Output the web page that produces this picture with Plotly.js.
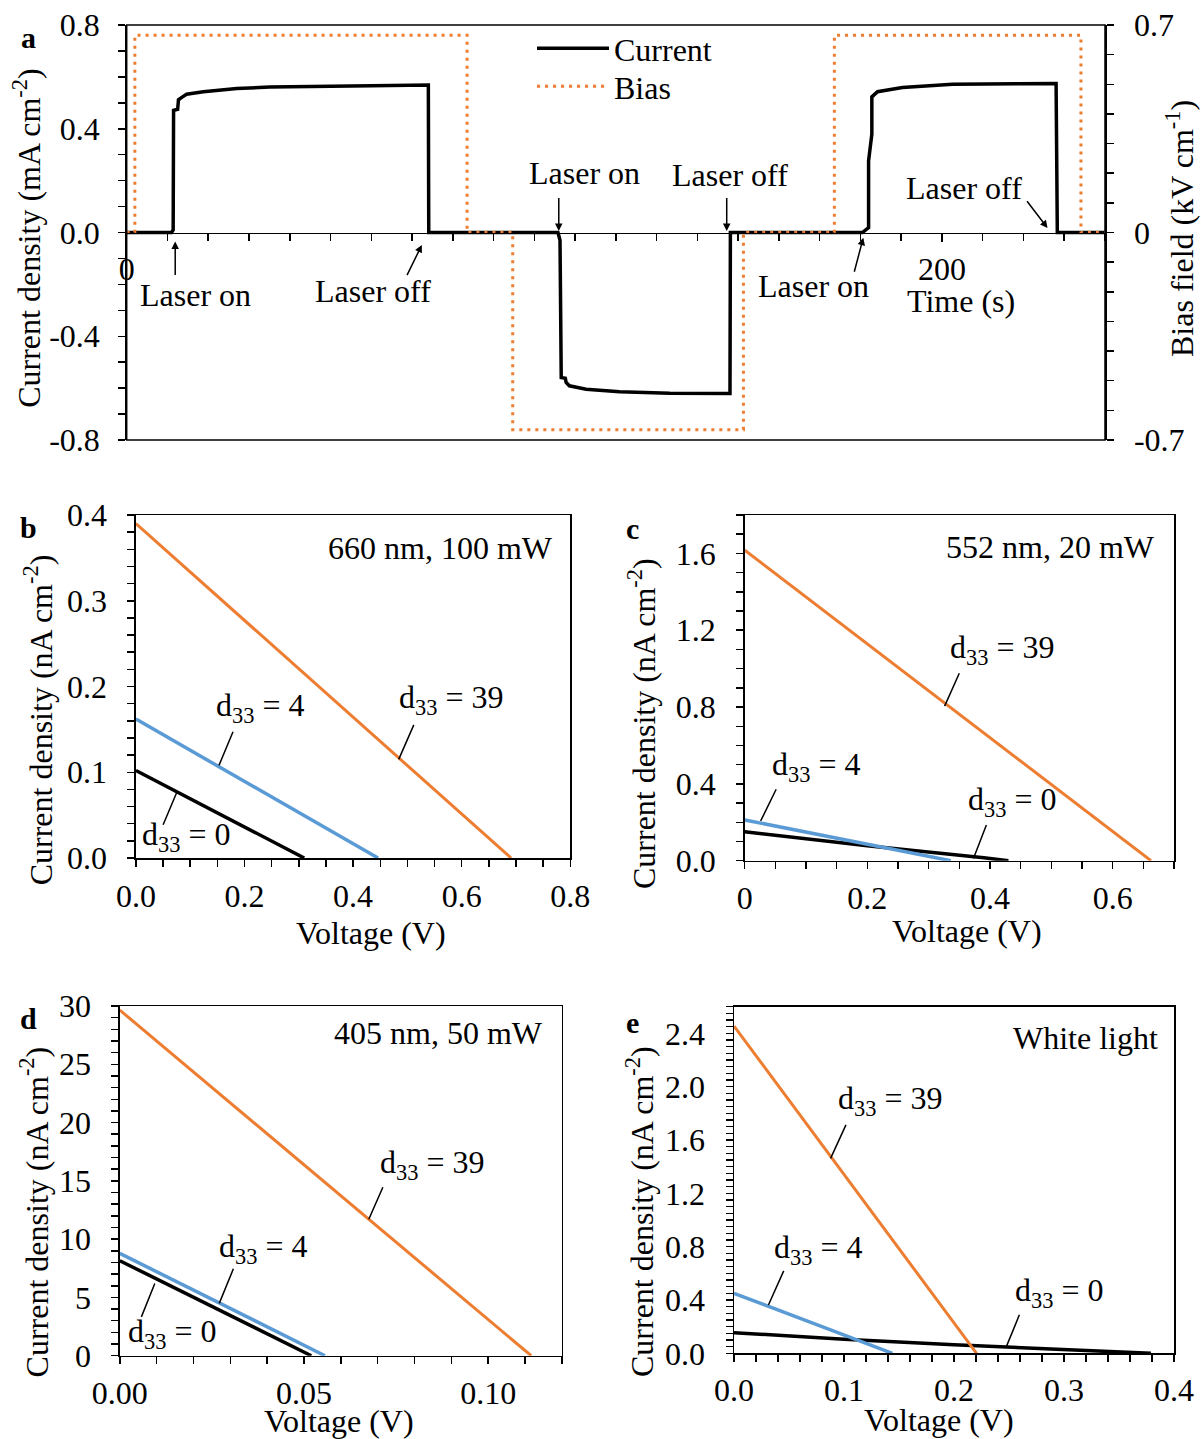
<!DOCTYPE html>
<html>
<head>
<meta charset="utf-8">
<script src="https://cdn.plot.ly/plotly-3.0.1.min.js"></script>
<style>html,body{margin:0;padding:0;background:#fff;}#plot{width:1201px;height:1439px;}</style>
</head>
<body>
<div id="plot"></div>
<script>
// ---------- Panel a data ----------
var timeCurrent = [0, 11.0, 11.4, 11.5, 12.5, 12.7, 13.6, 14.7, 18.8, 27.0, 35.1, 47.4, 60, 74.0, 74.1,
  105.8, 106.3, 106.6, 107.6, 107.8, 108.6, 112.7, 120.9, 133.2, 148.0, 148.1,
  180.5, 182.0, 182.0, 182.8, 182.8, 184.2, 190.3, 202.6, 228.0, 228.3, 240];
var currentDensity = [0, 0, 0.01, 0.471, 0.475, 0.512, 0.522, 0.533, 0.543, 0.555, 0.561, 0.562, 0.566, 0.569, 0,
  0, -0.03, -0.559, -0.562, -0.578, -0.591, -0.604, -0.614, -0.620, -0.621, 0,
  0, 0.019, 0.276, 0.379, 0.523, 0.543, 0.559, 0.572, 0.574, 0, 0];
var timeBias = [0, 2.0, 2.0, 83.5, 83.5, 94.7, 94.7, 151.3, 151.3, 173.6, 173.6, 234.1, 234.1, 240];
var biasField = [0, 0, 0.665, 0.665, 0, 0, -0.665, -0.665, 0, 0, 0.665, 0.665, 0, 0];

var aYTickVals = [-0.8, -0.4, 0, 0.4, 0.8];
var aYTickText = ['-0.8', '-0.4', '0.0', '0.4', '0.8'];
var aY2TickVals = [-0.7, 0, 0.7];
var aY2TickText = ['-0.7', '0', '0.7'];
var aXTickVals = [0, 200];

// ---------- Panel b (660 nm, 100 mW) ----------
var bV0 = [0, 0.310], bJ0 = [0.102, 0];
var bV4 = [0, 0.446], bJ4 = [0.162, 0];
var bV39 = [0, 0.691], bJ39 = [0.390, 0];
// ---------- Panel c (552 nm, 20 mW) ----------
var cV0 = [0, 0.2, 0.39, 0.43], cJ0 = [0.151, 0.078, 0.015, 0];
var cV4 = [0, 0.336], cJ4 = [0.212, 0];
var cV39 = [0, 0.6625], cJ39 = [1.617, 0];
// ---------- Panel d (405 nm, 50 mW) ----------
var dV0 = [0, 0.052], dJ0 = [8.15, 0];
var dV4 = [0, 0.0557], dJ4 = [8.78, 0];
var dV39 = [0, 0.1117], dJ39 = [29.65, 0];
// ---------- Panel e (White light) ----------
var eV0 = [0, 0.1, 0.2, 0.3, 0.379], eJ0 = [0.155, 0.106, 0.064, 0.025, 0];
var eV4 = [0, 0.144], eJ4 = [0.45, 0];
var eV39 = [0, 0.2205], eJ39 = [2.455, 0];

var W = 1201, H = 1439;
function PX(px) { return px / W; }
function PY(py) { return 1 - py / H; }

var FONT = 'Liberation Serif, Times New Roman, serif';
var FS = 32;
var BLACK = '#000000', BLUE = '#5B9BD5', ORANGE = '#ED7D31';

var traces = [
  {x: timeCurrent, y: currentDensity, xaxis: 'x', yaxis: 'y', name: 'Current', mode: 'lines',
   legend: 'legend', line: {color: BLACK, width: 3.5}},
  {x: timeBias, y: biasField, xaxis: 'x', yaxis: 'y2', name: 'Bias', mode: 'lines',
   legend: 'legend2', line: {color: ORANGE, width: 3, dash: '3px,5px'}},
];
function addPanel(xa, ya, v0, j0, v4, j4, v39, j39) {
  traces.push({x: v0, y: j0, xaxis: xa, yaxis: ya, mode: 'lines', showlegend: false, line: {color: BLACK, width: 3.5}});
  traces.push({x: v4, y: j4, xaxis: xa, yaxis: ya, mode: 'lines', showlegend: false, line: {color: BLUE, width: 3.5}});
  traces.push({x: v39, y: j39, xaxis: xa, yaxis: ya, mode: 'lines', showlegend: false, line: {color: ORANGE, width: 3}});
}
addPanel('x2', 'y3', bV0, bJ0, bV4, bJ4, bV39, bJ39);
addPanel('x3', 'y4', cV0, cJ0, cV4, cJ4, cV39, cJ39);
addPanel('x4', 'y5', dV0, dJ0, dV4, dJ4, dV39, dJ39);
addPanel('x5', 'y6', eV0, eJ0, eV4, eJ4, eV39, eJ39);

var tickFont = {family: FONT, size: FS, color: BLACK};
function baseAxis(extra) {
  var a = {showgrid: false, zeroline: false, showline: true, linecolor: BLACK, linewidth: 1.5,
    ticks: 'outside', ticklen: 7, tickwidth: 1.5, tickcolor: BLACK, tickfont: tickFont,
    fixedrange: true};
  for (var k in extra) a[k] = extra[k];
  return a;
}
function minorTicks(d) {
  return {dtick: d, tick0: 0, ticks: 'outside', ticklen: 7, tickwidth: 1.5, tickcolor: BLACK};
}

var dA = {x: [PX(126.7), PX(1105)], y: [PY(440), PY(25)]};
var dB = {x: [PX(135.9), PX(570.3)], y: [PY(858), PY(515)]};
var dC = {x: [PX(744.7), PX(1174)], y: [PY(860.7), PY(515)]};
var dD = {x: [PX(119.8), PX(561.8)], y: [PY(1355.7), PY(1006)]};
var dE = {x: [PX(734), PX(1174)], y: [PY(1353.3), PY(1006.7)]};

function legendBox(topPx) {
  return {x: PX(532), y: PY(topPx), xanchor: 'left', yanchor: 'top', bgcolor: 'rgba(0,0,0,0)',
    borderwidth: 0, font: {family: FONT, size: FS, color: BLACK}, itemwidth: 72, tracegroupgap: 0};
}

var layout = {
  width: W, height: H,
  margin: {l: 0, r: 0, t: 0, b: 0, pad: 0},
  paper_bgcolor: '#fff', plot_bgcolor: 'rgba(0,0,0,0)',
  font: {family: FONT, size: FS, color: BLACK},
  showlegend: true,
  legend: legendBox(21),
  legend2: legendBox(59),
  xaxis: baseAxis({domain: dA.x, range: [0, 240], anchor: 'free', position: (dA.y[0] + dA.y[1]) / 2,
    tickvals: aXTickVals, ticklen: 8, ticklabelstandoff: 0, minor: minorTicks(10)}),
  yaxis: baseAxis({domain: dA.y, range: [-0.8, 0.8], anchor: 'x', tickvals: aYTickVals, ticktext: aYTickText,
    ticklabelstandoff: 12, minor: minorTicks(0.1)}),
  yaxis2: baseAxis({domain: dA.y, range: [-0.7, 0.7], anchor: 'x', overlaying: 'y', side: 'right',
    tickvals: aY2TickVals, ticktext: aY2TickText, ticklabelstandoff: 14, minor: minorTicks(0.1)}),

  xaxis2: baseAxis({domain: dB.x, anchor: 'y3', range: [0, 0.8], dtick: 0.2, tickformat: '.1f', mirror: true,
    ticklabelstandoff: 2, minor: minorTicks(0.05)}),
  yaxis3: baseAxis({domain: dB.y, anchor: 'x2', range: [0, 0.4], dtick: 0.1, tickformat: '.1f', mirror: true,
    ticklabelstandoff: 14, minor: minorTicks(0.02)}),

  xaxis3: baseAxis({domain: dC.x, anchor: 'y4', range: [0, 0.7], dtick: 0.2, mirror: true,
    ticklabelstandoff: 1, minor: minorTicks(0.05)}),
  yaxis4: baseAxis({domain: dC.y, anchor: 'x3', range: [0, 1.8], dtick: 0.4, tickformat: '.1f', mirror: true,
    ticklabelstandoff: 14, minor: minorTicks(0.1)}),

  xaxis4: baseAxis({domain: dD.x, anchor: 'y5', range: [0, 0.12], dtick: 0.05, tickformat: '.2f', mirror: true,
    ticklabelstandoff: 1, minor: minorTicks(0.01)}),
  yaxis5: baseAxis({domain: dD.y, anchor: 'x4', range: [0, 30], dtick: 5, mirror: true,
    ticklabelstandoff: 14, minor: minorTicks(1)}),

  xaxis5: baseAxis({domain: dE.x, anchor: 'y6', range: [0, 0.4], dtick: 0.1, tickformat: '.1f', mirror: true,
    ticklabelstandoff: 1, minor: minorTicks(0.02)}),
  yaxis6: baseAxis({domain: dE.y, anchor: 'x5', range: [0, 2.6], dtick: 0.4, tickformat: '.1f', mirror: true,
    ticklabelstandoff: 14, minor: minorTicks(0.05)}),

  shapes: [
    {type: 'rect', xref: 'x domain', yref: 'y domain', x0: 0, x1: 1, y0: 0, y1: 1,
     line: {color: BLACK, width: 1.5}, fillcolor: 'rgba(0,0,0,0)', layer: 'above'}
  ],
  annotations: []
};

var ann = layout.annotations;
function paperText(text, px, py, opts) {
  var a = {text: text, x: PX(px), y: PY(py), xref: 'paper', yref: 'paper', showarrow: false,
    font: {family: FONT, size: FS, color: BLACK}, xanchor: 'center', yanchor: 'middle'};
  for (var k in (opts || {})) a[k] = opts[k];
  ann.push(a);
}
var LETTER = {family: FONT, size: 30, color: BLACK};
paperText('<b>a</b>', 28.7, 38, {font: LETTER});
paperText('<b>b</b>', 28.7, 527, {font: LETTER});
paperText('<b>c</b>', 632.5, 528, {font: LETTER});
paperText('<b>d</b>', 28.7, 1018, {font: LETTER});
paperText('<b>e</b>', 632.5, 1022, {font: LETTER});

// axis titles
paperText('Current density (mA cm<sup>-2</sup>)', 26.8, 238, {textangle: -90});
paperText('Bias field (kV cm<sup>-1</sup>)', 1180, 229, {textangle: -90});
paperText('Time (s)', 960.6, 301);
paperText('Current density (nA cm<sup>-2</sup>)', 38.3, 720, {textangle: -90});
paperText('Current density (nA cm<sup>-2</sup>)', 642, 724, {textangle: -90});
paperText('Current density (nA cm<sup>-2</sup>)', 34.4, 1212, {textangle: -90});
paperText('Current density (nA cm<sup>-2</sup>)', 640, 1212, {textangle: -90});
paperText('Voltage (V)', 371, 933);
paperText('Voltage (V)', 967, 931);
paperText('Voltage (V)', 339, 1421);
paperText('Voltage (V)', 939, 1420);

// condition labels
paperText('660 nm, 100 mW', 555, 548, {xanchor: 'right'});
paperText('552 nm, 20 mW', 1157, 547, {xanchor: 'right'});
paperText('405 nm, 50 mW', 545, 1033, {xanchor: 'right'});
paperText('White light', 1160, 1038, {xanchor: 'right'});

function dataText(text, xr, yr, x, y) {
  ann.push({text: text, x: x, y: y, xref: xr, yref: yr, showarrow: false,
    font: {family: FONT, size: FS, color: BLACK}, xanchor: 'center', yanchor: 'middle'});
}
function arrow(xr, yr, hx, hy, tx, ty, head) {
  ann.push({text: '', x: hx, y: hy, ax: tx, ay: ty, xref: xr, yref: yr, axref: xr, ayref: yr,
    showarrow: true, arrowhead: head, arrowsize: 1, arrowwidth: 1.5, arrowcolor: BLACK, standoff: 0, startstandoff: 0});
}
dataText('Laser on', 'x', 'y', 16.8, -0.240);
arrow('x', 'y', 11.9, -0.035, 11.9, -0.170, 2);
dataText('Laser off', 'x', 'y', 60.4, -0.227);
arrow('x', 'y', 72.4, -0.048, 68.6, -0.170, 2);
dataText('Laser on', 'x', 'y', 112.3, 0.230);
arrow('x', 'y', 106.0, 0.006, 106.0, 0.139, 2);
dataText('Laser off', 'x', 'y', 148.1, 0.222);
arrow('x', 'y', 147.2, 0.006, 147.2, 0.139, 2);
dataText('Laser on', 'x', 'y', 168.5, -0.208);
arrow('x', 'y', 180.7, -0.020, 178.4, -0.157, 2);
dataText('Laser off', 'x', 'y', 205.4, 0.171);
arrow('x', 'y', 225.9, 0.017, 220.6, 0.126, 2);

function leader(xr, yr, text, lx, ly, hx, hy, tx, ty) {
  dataText(text, xr, yr, lx, ly);
  arrow(xr, yr, hx, hy, tx, ty, 0);
}
var D39 = 'd<sub>33</sub> = 39', D4 = 'd<sub>33</sub> = 4', D0 = 'd<sub>33</sub> = 0';
leader('x2', 'y3', D39, 0.581, 0.185, 0.484, 0.115, 0.513, 0.157);
leader('x2', 'y3', D4, 0.229, 0.175, 0.153, 0.108, 0.180, 0.149);
leader('x2', 'y3', D0, 0.093, 0.025, 0.075, 0.076, 0.049, 0.037);
leader('x3', 'y4', D39, 0.42, 1.10, 0.326, 0.805, 0.351, 0.984);
leader('x3', 'y4', D4, 0.117, 0.49, 0.026, 0.207, 0.0525, 0.38);
leader('x3', 'y4', D0, 0.436, 0.31, 0.373, 0.012, 0.395, 0.194);
leader('x4', 'y5', D39, 0.0848, 16.4, 0.0676, 11.7, 0.0716, 14.58);
leader('x4', 'y5', D4, 0.039, 9.2, 0.027, 4.49, 0.031, 7.58);
leader('x4', 'y5', D0, 0.0142, 1.9, 0.0095, 6.2, 0.0057, 3.2);
leader('x5', 'y6', D39, 0.142, 1.90, 0.0878, 1.4625, 0.1024, 1.725);
leader('x5', 'y6', D4, 0.0764, 0.78, 0.0313, 0.3625, 0.0458, 0.63);
leader('x5', 'y6', D0, 0.295, 0.455, 0.2476, 0.05, 0.26, 0.3);

Plotly.newPlot('plot', traces, layout, {staticPlot: true, displayModeBar: false});
</script>
</body>
</html>
